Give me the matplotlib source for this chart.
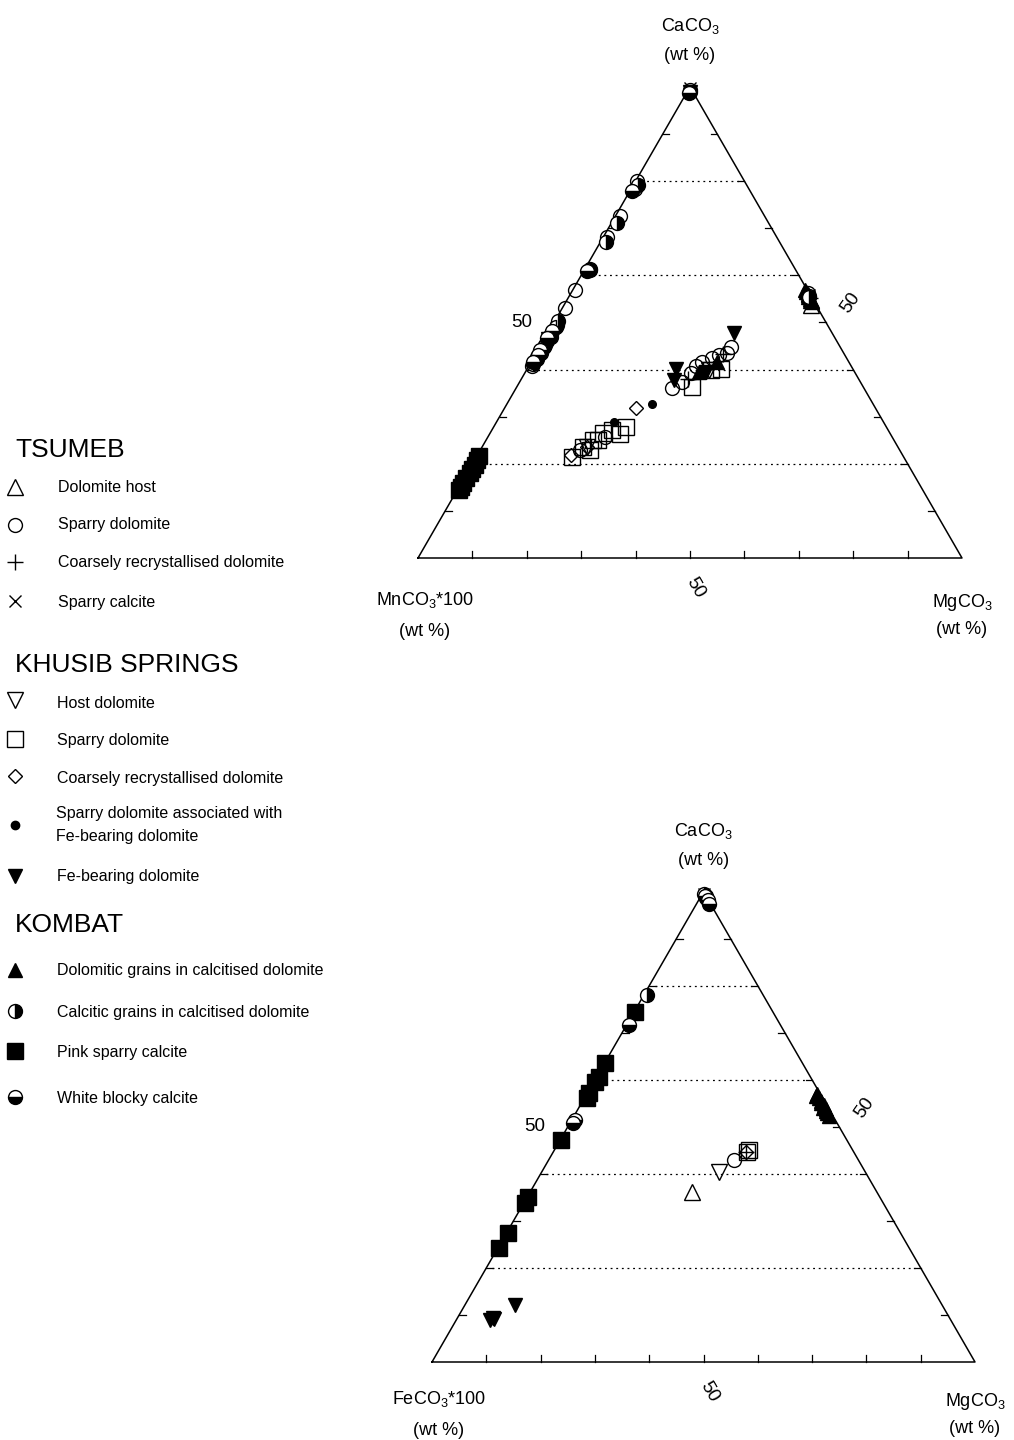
import numpy as np
import matplotlib.pyplot as plt

plt.rcParams['font.family'] = ['Liberation Sans', 'DejaVu Sans']
plt.rcParams['mathtext.fontset'] = 'custom'
plt.rcParams['mathtext.rm'] = 'Liberation Sans'
plt.rcParams['mathtext.default'] = 'regular'

W, H = 1014, 1440
H3 = np.sqrt(3) / 2

# analyses as (CaCO3, MgCO3) wt %, the remainder is MnCO3*100 or FeCO3*100
# --- upper diagram: CaCO3 - MnCO3*100 - MgCO3
mn_ts_host = [(53.6, 45.4), (54.8, 44.9)]
mn_ts_sparry = [(99.4, 0.3), (80.0, 0.3), (78.4, 0.6), (72.6, 0.8), (68.2, 0.6),
                (61.4, 0.9), (56.8, 0.5), (53.0, 0.5), (49.4, 0.8), (47.6, 0.6),
                (45.2, 0.7), (42.6, 0.6), (40.8, 0.5), (44.7, 35.2), (43.6, 35.0),
                (41.5, 31.5), (40.7, 30.8), (39.2, 30.6), (36.0, 28.7), (37.3, 29.9),
                (42.4, 32.9), (43.0, 33.9), (22.9, 18.3), (25.6, 21.5), (55.6, 44.1),
                (56.2, 43.6)]
mn_ts_coarse = [(38.1, 30.5), (55.2, 44.4), (43.2, 34.4)]
mn_ts_calcite = [(99.8, 0.1), (99.2, 0.4), (55.8, 43.9)]
mn_kh_host = [(23.6, 19.2), (40.0, 33.5)]
mn_kh_sparry = [(40.2, 35.6), (36.2, 32.3), (39.8, 34.0), (21.4, 17.7), (23.5, 18.5),
                (25.0, 19.6), (26.5, 20.7), (27.1, 22.2), (27.8, 24.4), (26.3, 23.9),
                (22.9, 20.1), (25.0, 20.5)]
mn_kh_coarse = [(21.8, 17.3), (31.8, 24.2), (23.5, 19.4)]
mn_kh_assoc = [(32.6, 26.8), (28.8, 21.7)]
mn_kh_fe = [(47.7, 34.3), (40.2, 27.3), (37.7, 28.3), (39.4, 33.3), (99.0, 0.5),
            (46.4, 0.7)]
mn_ko_dolo = [(55.0, 44.6), (56.0, 43.7), (54.3, 45.2), (55.6, 44.0), (56.4, 43.2),
              (55.8, 43.8), (54.8, 44.8), (56.8, 42.8), (55.4, 43.9), (41.5, 34.2),
              (39.4, 32.0)]
mn_ko_calc = [(79.2, 0.8), (71.2, 0.9), (67.0, 1.0), (61.2, 1.1), (50.2, 0.7),
              (49.0, 0.9), (47.0, 0.9), (46.0, 0.8), (44.8, 0.8), (43.5, 0.8),
              (42.2, 0.8), (41.2, 0.6), (55.3, 44.3), (98.9, 0.6)]
mn_ko_pink = [(21.6, 0.4), (20.7, 0.5), (19.8, 0.6), (18.9, 0.4), (18.0, 0.5),
              (17.0, 0.4), (16.0, 0.3), (15.0, 0.4), (14.4, 0.3)]
mn_ko_white = [(78.0, 0.4), (61.0, 0.6), (48.2, 0.5), (46.6, 0.5), (44.2, 0.4),
               (43.0, 0.5), (41.6, 0.3), (98.6, 0.6)]

# --- lower diagram: CaCO3 - FeCO3*100 - MgCO3
fe_ts_host = [(36.2, 29.7)]
fe_ts_sparry = [(43.0, 34.2)]
fe_ts_coarse = [(44.6, 35.5)]
fe_ts_calcite = [(99.6, 0.2)]
fe_kh_host = [(40.4, 32.7)]
fe_kh_sparry = [(44.6, 35.7), (45.0, 35.9)]
fe_kh_coarse = [(44.6, 35.6)]
fe_kh_assoc = []
fe_kh_fe = [(9.4, 6.5), (12.1, 9.2), (8.9, 6.2), (9.2, 6.8)]
fe_ko_dolo = [(57.0, 42.4), (56.2, 43.2), (55.4, 44.0), (54.6, 44.8), (53.8, 45.6),
              (53.0, 46.3), (52.4, 47.0), (56.6, 42.4), (54.0, 45.0), (55.0, 44.2),
              (53.4, 45.8)]
fe_ko_calc = [(78.1, 0.5), (99.6, 0.3), (98.6, 1.2), (99.2, 0.8)]
fe_ko_pink = [(74.5, 0.1), (63.6, 0.1), (60.6, 0.4), (59.6, 0.2), (57.2, 0.3),
              (56.2, 0.4), (47.2, 0.1), (35.1, 0.2), (33.8, 0.3), (27.4, 0.3),
              (24.3, 0.2)]
fe_ko_white = [(71.7, 0.4), (51.4, 0.6), (50.8, 0.5), (99.0, 0.8), (98.2, 1.7),
               (97.4, 2.4)]

series = ['ts_host', 'ts_sparry', 'ts_coarse', 'ts_calcite',
          'kh_host', 'kh_sparry', 'kh_coarse', 'kh_assoc', 'kh_fe',
          'ko_dolo', 'ko_calc', 'ko_pink', 'ko_white']
mn_data = [mn_ts_host, mn_ts_sparry, mn_ts_coarse, mn_ts_calcite,
           mn_kh_host, mn_kh_sparry, mn_kh_coarse, mn_kh_assoc, mn_kh_fe,
           mn_ko_dolo, mn_ko_calc, mn_ko_pink, mn_ko_white]
fe_data = [fe_ts_host, fe_ts_sparry, fe_ts_coarse, fe_ts_calcite,
           fe_kh_host, fe_kh_sparry, fe_kh_coarse, fe_kh_assoc, fe_kh_fe,
           fe_ko_dolo, fe_ko_calc, fe_ko_pink, fe_ko_white]

labels = ['Dolomite host', 'Sparry dolomite', 'Coarsely recrystallised dolomite',
          'Sparry calcite', 'Host dolomite', 'Sparry dolomite',
          'Coarsely recrystallised dolomite',
          'Sparry dolomite associated with\nFe-bearing dolomite',
          'Fe-bearing dolomite', 'Dolomitic grains in calcitised dolomite',
          'Calcitic grains in calcitised dolomite', 'Pink sparry calcite',
          'White blocky calcite']
groups = ['TSUMEB', 'KHUSIB SPRINGS', 'KOMBAT']

mk = dict(ls='none', color='k', mec='k', mew=1.0)
styles = {
    'ts_host': dict(marker='^', ms=11, mfc='none'),
    'ts_sparry': dict(marker='o', ms=10, mfc='none'),
    'ts_coarse': dict(marker='+', ms=11, mew=1.0),
    'ts_calcite': dict(marker='x', ms=9),
    'kh_host': dict(marker='v', ms=11, mfc='none'),
    'kh_sparry': dict(marker='s', ms=11, mfc='none'),
    'kh_coarse': dict(marker='D', ms=7.5, mfc='none'),
    'kh_assoc': dict(marker='o', ms=5.5, mfc='k'),
    'kh_fe': dict(marker='v', ms=10, mfc='k'),
    'ko_dolo': dict(marker='^', ms=10, mfc='k'),
    'ko_calc': dict(marker='o', ms=10, fillstyle='right', mfc='k', mfcalt='w'),
    'ko_pink': dict(marker='s', ms=11, mfc='k'),
    'ko_white': dict(marker='o', ms=10, fillstyle='bottom', mfc='k', mfcalt='w'),
}

fig = plt.figure(figsize=(W / 100, H / 100), dpi=100)


def tern(pts):
    p = np.array(pts, dtype=float).reshape(-1, 2) / 100.0
    ca, mg = p[:, 0], p[:, 1]
    return mg + ca / 2, ca * H3


def panel(x0, y0, w, data, left_label, lab_dy):
    # x0, y0: pixel position of the lower left corner, w: side length in px
    pad = 0.2
    ax = fig.add_axes([(x0 - pad * w) / W, (H - y0 - pad * w) / H,
                       (1 + 2 * pad) * w / W, (H3 + 2 * pad) * w / H])
    ax.set_xlim(-pad, 1 + pad)
    ax.set_ylim(-pad, H3 + pad)
    ax.axis('off')

    ax.plot([0, 1, 0.5, 0], [0, 0, H3, 0], color='k', lw=1.1, zorder=2)
    t = 0.012
    for i in range(1, 10):
        f = i / 10
        y = f * H3
        ax.plot([f, f], [0, t], color='k', lw=0.9)
        ax.plot([f / 2, f / 2 + t], [y, y], color='k', lw=0.9)
        ax.plot([1 - f / 2, 1 - f / 2 - t], [y, y], color='k', lw=0.9)
        if i % 2 == 0:
            ax.plot([f / 2 + 0.01, 1 - f / 2 - 0.01], [y, y], color='k', lw=0.9,
                    ls=(0, (1.5, 3.0)))

    for name, pts in zip(series, data):
        if len(pts) == 0:
            continue
        x, y = tern(pts)
        kw = dict(mk)
        kw.update(styles[name])
        ax.plot(x, y, clip_on=False, zorder=3, **kw)

    fs = 13
    ax.text(0.5, H3 + 0.112, 'CaCO$_3$', ha='center', va='center', fontsize=fs)
    ax.text(0.5, H3 + 0.058, '(wt %)', ha='center', va='center', fontsize=fs)
    ax.text(0.013, -lab_dy, left_label, ha='center', va='center', fontsize=fs)
    ax.text(0.012, -lab_dy - 0.058, '(wt %)', ha='center', va='center', fontsize=fs)
    ax.text(1.0, -lab_dy - 0.004, 'MgCO$_3$', ha='center', va='center', fontsize=fs)
    ax.text(1.0, -lab_dy - 0.054, '(wt %)', ha='center', va='center', fontsize=fs)
    ax.text(0.25 - 0.06, H3 / 2, '50', ha='center', va='center', fontsize=fs + 0.5)
    ax.text(0.75 + 0.046, H3 / 2 + 0.036, '50', ha='center', va='center',
            fontsize=fs + 0.5, rotation=55)
    ax.text(0.51, -0.055, '50', ha='center', va='center', fontsize=fs + 0.5,
            rotation=-60)
    return ax


panel(418, 558, 544, mn_data, 'MnCO$_3$*100', 0.077)
panel(432, 1362, 543, fe_data, 'FeCO$_3$*100', 0.068)

# symbol key on the left
lg = fig.add_axes([0, 0, 1, 1], zorder=-1)
lg.set_xlim(0, W)
lg.set_ylim(H, 0)
lg.axis('off')

group_y = [450, 665, 925]
sym_y = [487, 525, 562, 601, 700, 739, 776, 825, 876, 970, 1011, 1051, 1097]
txt_y = [487, 525, 563, 602, 703, 741, 779, 825, 877, 971, 1013, 1053, 1098]
txt_x = [58, 58, 58, 58, 57, 57, 57, 56, 57, 57, 57, 57, 57]

for g, gy in zip(groups, group_y):
    lg.text(15, gy, g, fontsize=19, ha='left', va='center')
for name, lab, sy, ty, tx in zip(series, labels, sym_y, txt_y, txt_x):
    kw = dict(mk)
    kw.update(styles[name])
    if name == 'kh_assoc':
        kw['ms'] = 6
    lg.plot([15], [sy], **kw)
    lg.text(tx, ty, lab, fontsize=11.5, ha='left', va='center', linespacing=1.6)

fig.savefig('out.png', dpi=100)
